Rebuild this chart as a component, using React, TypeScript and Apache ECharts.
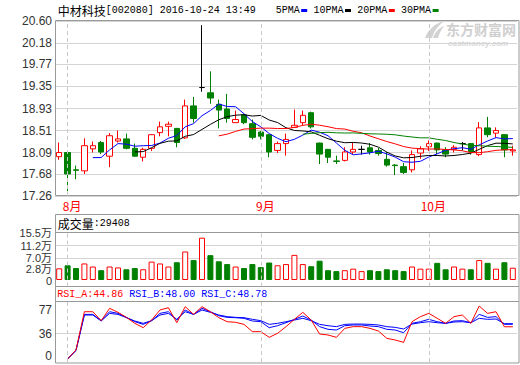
import React, { useEffect, useRef } from 'react';
import * as echarts from 'echarts';

// ---------- data ----------
const dates = [
  '2016-07-29',
  '2016-08-01', '2016-08-02', '2016-08-03', '2016-08-04', '2016-08-05',
  '2016-08-08', '2016-08-09', '2016-08-10', '2016-08-11', '2016-08-12',
  '2016-08-15', '2016-08-16', '2016-08-17', '2016-08-18', '2016-08-19',
  '2016-08-22', '2016-08-23', '2016-08-24', '2016-08-25', '2016-08-26',
  '2016-08-29', '2016-08-30', '2016-08-31',
  '2016-09-01', '2016-09-02', '2016-09-05', '2016-09-06', '2016-09-07',
  '2016-09-08', '2016-09-09', '2016-09-12', '2016-09-13', '2016-09-14',
  '2016-09-19', '2016-09-20', '2016-09-21', '2016-09-22', '2016-09-23',
  '2016-09-26', '2016-09-27', '2016-09-28', '2016-09-29', '2016-09-30',
  '2016-10-10', '2016-10-11', '2016-10-12', '2016-10-13', '2016-10-14',
  '2016-10-17', '2016-10-18', '2016-10-19', '2016-10-20', '2016-10-21',
  '2016-10-24',
];

const opens = [
  18.01, 18.09, 17.76, 17.74, 18.16, 18.28, 18.02, 18.31, 18.35, 18.17,
  18.00, 18.17, 18.47, 18.59, 18.55, 18.37, 18.98, 19.33, 19.23, 19.01,
  18.92, 18.66, 18.81, 18.64, 18.48, 18.43, 18.13, 18.26, 18.57, 18.66,
  18.85, 18.27, 18.15, 17.93, 17.94, 18.10, 18.15, 18.18, 18.13, 17.96,
  17.85, 17.82, 17.76, 18.08, 18.20, 18.27, 18.14, 18.15, 18.26, 18.26,
  18.05, 18.56, 18.46, 18.43, 18.12,
];
const closes = [
  18.09, 17.68, 17.75, 18.22, 18.22, 18.10, 18.41, 18.35, 18.17, 18.02,
  18.15, 18.43, 18.58, 18.63, 18.28, 18.98, 18.74, 19.33, 19.13, 18.90,
  18.74, 18.72, 18.66, 18.38, 18.40, 18.10, 18.26, 18.34, 18.61, 18.80,
  18.58, 18.06, 18.00, 17.92, 18.10, 18.15, 18.15, 18.10, 18.07, 17.85,
  17.84, 17.71, 18.05, 18.16, 18.26, 18.14, 18.06, 18.19, 18.26, 18.11,
  18.56, 18.43, 18.51, 18.14, 18.14,
];
const lows = [
  17.95, 17.35, 17.58, 17.68, 18.09, 18.06, 17.81, 18.28, 18.15, 18.01,
  17.92, 18.12, 18.40, 18.40, 18.19, 18.35, 18.66, 19.25, 19.02, 18.55,
  18.66, 18.66, 18.63, 18.34, 18.34, 18.00, 18.08, 18.03, 18.56, 18.61,
  18.55, 17.87, 17.89, 17.87, 17.92, 18.05, 18.05, 18.05, 18.03, 17.82,
  17.66, 17.68, 17.71, 17.97, 18.12, 18.06, 18.00, 18.09, 18.13, 18.05,
  18.02, 18.38, 18.37, 18.00, 18.03,
];
const highs = [
  18.28, 18.09, 17.84, 18.36, 18.30, 18.31, 18.46, 18.51, 18.45, 18.26,
  18.18, 18.44, 18.68, 18.68, 18.56, 19.10, 19.15, 20.52, 19.64, 19.10,
  19.21, 18.89, 18.82, 18.72, 18.50, 18.44, 18.30, 18.45, 18.91, 18.89,
  18.87, 18.28, 18.16, 18.03, 18.19, 18.28, 18.22, 18.27, 18.18, 18.10,
  17.87, 17.89, 18.13, 18.21, 18.32, 18.28, 18.19, 18.23, 18.29, 18.27,
  18.67, 18.77, 18.57, 18.44, 18.22,
];

const volumes = [
  38000, 48000, 39000, 54000, 44000, 32000, 44000, 41000, 35000, 39000,
  35000, 60000, 54000, 44000, 58000, 93000, 65000, 138000, 81000, 61000,
  52000, 44000, 39000, 52000, 42000, 57000, 48000, 52000, 82000, 52000,
  45000, 63000, 32000, 29000, 32000, 37000, 29000, 32000, 29000, 35000,
  32000, 29000, 44000, 37000, 37000, 56000, 35000, 44000, 37000, 35000,
  65000, 56000, 37000, 58000, 40000,
];

const ma5 = [
  null, null, null, null, 17.992, 17.994, 18.14, 18.26, 18.25, 18.21,
  18.22, 18.224, 18.27, 18.362, 18.414, 18.58, 18.642, 18.792, 18.892, 19.016,
  18.968, 18.964, 18.83, 18.68, 18.58, 18.452, 18.36, 18.296, 18.342, 18.422,
  18.518, 18.478, 18.41, 18.272, 18.132, 18.046, 18.064, 18.084, 18.114, 18.064,
  18.002, 17.914, 17.904, 17.922, 18.004, 18.064, 18.134, 18.162, 18.182, 18.152,
  18.236, 18.31, 18.374, 18.35, 18.356,
];
const ma10 = [
  null, null, null, null, null, null, null, null, null, 18.101,
  18.107, 18.182, 18.265, 18.306, 18.312, 18.40, 18.433, 18.531, 18.627, 18.715,
  18.774, 18.803, 18.811, 18.786, 18.798, 18.71, 18.662, 18.563, 18.511, 18.501,
  18.485, 18.419, 18.353, 18.307, 18.277, 18.282, 18.271, 18.247, 18.193, 18.098,
  18.024, 17.989, 17.994, 18.018, 18.034, 18.033, 18.024, 18.033, 18.052, 18.078,
  18.15, 18.222, 18.268, 18.266, 18.254,
];
const ma20 = [
  null, null, null, null, null, null, null, null, null, null,
  null, null, null, null, null, null, null, null, null, 18.408,
  18.441, 18.493, 18.538, 18.546, 18.555, 18.555, 18.548, 18.547, 18.569, 18.608,
  18.63, 18.611, 18.582, 18.547, 18.538, 18.496, 18.467, 18.405, 18.352, 18.30,
  18.255, 18.204, 18.174, 18.163, 18.156, 18.158, 18.148, 18.14, 18.123, 18.088,
  18.087, 18.106, 18.131, 18.142, 18.144,
];
const ma30 = [
  null, null, null, null, null, null, null, null, null, null,
  null, null, null, null, null, null, null, null, null, null,
  null, null, null, null, null, null, null, null, null, 18.439,
  18.455, 18.468, 18.476, 18.466, 18.462, 18.464, 18.455, 18.447, 18.444, 18.438,
  18.428, 18.404, 18.386, 18.37, 18.37, 18.342, 18.319, 18.281, 18.252, 18.226,
  18.22, 18.21, 18.205, 18.197, 18.188,
];

const rsiA = [
  null, 3.8, 15.3, 64, 64, 52.6, 68.3, 63.2, 56.8, 49.2,
  43.7, 53.4, 66.2, 69.1, 50, 70.4, 60.6, 70.4, 64, 56.4,
  51.3, 50.5, 47.9, 38.6, 38.6, 31.4, 36.5, 45, 54.3, 63.2,
  53.4, 35.6, 34.4, 31.4, 42.8, 45, 45, 42.8, 39.4, 30.1,
  28, 25, 51.3, 57.7, 61.9, 55.6, 49.2, 57.7, 59.8, 49.2,
  71.2, 61.9, 64, 44.86, 44.86,
];
const rsiB = [
  null, 3.8, 15.3, 60.6, 60.6, 52.6, 64, 61.9, 56.8, 51.3,
  47.9, 52.6, 61.9, 64, 53.4, 66.2, 60.6, 68.3, 64, 58.9,
  56.8, 56.4, 55.6, 52.2, 51.3, 43.7, 46.2, 50, 54.3, 58.5,
  53.4, 45, 41.6, 40.7, 46.2, 47.1, 47.1, 45.8, 45, 41.6,
  40.7, 37.3, 49.2, 51.3, 54.3, 51.3, 49.2, 52.2, 52.6, 50,
  60.6, 56.8, 57.7, 48.0, 48.0,
];
const rsiC = [
  null, 3.8, 14.4, 59.8, 59.8, 52.2, 61.9, 60.6, 56.4, 52.2,
  49.2, 52.6, 59.8, 61.9, 54.3, 64, 60.6, 66.2, 63.2, 59.8,
  57.7, 56.8, 56.4, 54.3, 52.6, 47.9, 49.2, 51.3, 53.4, 55.6,
  52.6, 47.9, 46.2, 45, 47.9, 48.3, 48.3, 47.9, 47.1, 45,
  44.1, 42, 48.3, 50, 51.3, 50, 49.2, 50.9, 51.3, 50,
  55.6, 54.3, 54.7, 48.78, 48.78,
];

const priceTicks = [17.26, 17.68, 18.09, 18.51, 18.93, 19.35, 19.77, 20.18, 20.6];
const volumeMin = -21200;
const volumeTicks = [0, 28000, 70000, 112000, 155000];
const volumeGridTicks = [70000, 112000];
const rsiTicks = [0, 36, 77];
const rsiGridTicks = [36];
const monthStarts = ['2016-08-01', '2016-09-01', '2016-10-10'];
const monthLabels = ['8月', '9月', '10月'];

const titleName = '中材科技';
const titleRest = '[002080] 2016-10-24 13:49';
const legendItems = [
  { name: '5PMA', color: '#0000ff' },
  { name: '10PMA', color: '#000000' },
  { name: '20PMA', color: '#ff0000' },
  { name: '30PMA', color: '#008000' },
];
const volumeTitle = '成交量';
const volumeNow = ':29408';
const rsiLegend = [
  { text: 'RSI_A:44.86', color: '#ff0000' },
  { text: 'RSI_B:48.00', color: '#0000ff' },
  { text: 'RSI_C:48.78', color: '#0000ff' },
];

// ---------- style ----------
const UP = '#ff0000';
const DOWN = '#008000';
const FRAME = '#999999';
const GRIDC = '#d4d4d4';
const CJK = '"Noto Sans CJK SC", sans-serif';
const MONO = '"Liberation Mono", "DejaVu Sans Mono", monospace';
const NUM = '"Liberation Sans", Arial, "Noto Sans CJK SC", sans-serif';

const L = 55;
const W = 462;

function txt(x: number, y: number, text: string, fill: string, font: string, size: number, extra: any = {}) {
  return {
    type: 'text', x, y, silent: true, z: 10,
    style: { text, fill, fontFamily: font, fontSize: size, verticalAlign: 'middle', align: 'left', ...extra },
  };
}

function hline(x1: number, x2: number, y: number) {
  return { type: 'line', silent: true, z: 5, shape: { x1, y1: y, x2, y2: y }, style: { stroke: FRAME, lineWidth: 1 } };
}

const LOGO_D = 'M1 17 C4 9 10 3 20 0 C14 5 10 10 8 17 Z M9 17 C11 11 15 7 20 5 C17 9 15 13 14 17 Z';

export default function App() {
  const ref = useRef<HTMLDivElement>(null);
  useEffect(() => {
    if (!ref.current) return;
    echarts.graphic.registerShape('emlogo', echarts.graphic.extendPath(LOGO_D, {}));
    const chart = echarts.init(ref.current, undefined, { renderer: 'svg' });

    const candleData = dates.map((_, i) => [opens[i], closes[i], lows[i], highs[i]]);
    const volData = volumes.map((v, i) => {
      const up = closes[i] >= opens[i];
      return {
        value: v,
        itemStyle: up
          ? { color: '#ffffff', borderColor: UP, borderWidth: 1 }
          : { color: DOWN, borderColor: DOWN, borderWidth: 1 },
      };
    });
    const dash = () => ({
      silent: true,
      symbol: ['none', 'none'],
      label: { show: false },
      lineStyle: { color: '#c8c8c8', type: [4, 3], width: 1 },
      emphasis: { disabled: true },
      data: monthStarts.map((d) => ({ xAxis: d })),
    });
    const toSeries = (arr: (number | null)[]) => arr.map((v) => (v == null ? '-' : v));

    // legend graphics
    const legendGraphics: any[] = [];
    let lx = 275.7;
    legendItems.forEach((it) => {
      legendGraphics.push(txt(lx, 10, it.name, '#000', MONO, 10));
      const w = it.name.length * 6;
      legendGraphics.push({
        type: 'rect', silent: true, z: 10,
        shape: { x: lx + w + 1.5, y: 9, width: 6, height: 3 },
        style: { fill: it.color },
      });
      lx += w + 13.8;
    });

    const rsiGraphics = rsiLegend.map((r, i) => txt(57.3 + i * 72, 294, r.text, r.color, MONO, 10));

    const volLabel = (v: number) => {
      if (v < 0) return '';
      if (v === 0) return '{z|0}';
      const s = (v / 10000).toFixed(1) + '万';
      if (v === 28000) return '{u|' + s + '}';
      if (v === 70000) return '{s|' + s + '}';
      return '{n|' + s + '}';
    };
    const labelBase = { color: '#333', fontFamily: NUM, fontSize: 12 };
    const volBase = { color: '#333', fontFamily: NUM, fontSize: 11, lineHeight: 10 };

    const option: any = {
      animation: false,
      backgroundColor: '#ffffff',
      grid: [
        { left: L, top: 21, width: W, height: 175 },
        { left: L, top: 232.5, width: W, height: 54 },
        { left: L, top: 301.5, width: W, height: 60.5 },
      ],
      xAxis: [0, 1, 2].map((g) => ({
        type: 'category',
        gridIndex: g,
        data: dates,
        boundaryGap: true,
        axisLine: { show: false },
        axisTick: { show: false },
        splitLine: { show: false },
        axisLabel:
          g === 0
            ? {
                show: true,
                interval: (idx: number) => monthStarts.indexOf(dates[idx]) >= 0,
                formatter: (val: string) => monthLabels[monthStarts.indexOf(val)] || '',
                color: '#ff0000',
                fontFamily: CJK,
                fontSize: 12,
                margin: 3,
                padding: [0, 0, 0, 9],
              }
            : { show: false },
      })),
      yAxis: [
        {
          type: 'value',
          gridIndex: 0,
          min: 17.26,
          max: 20.6,
          axisLine: { show: false },
          axisTick: { show: false, customValues: priceTicks },
          axisLabel: {
            customValues: priceTicks,
            formatter: (v: number) => v.toFixed(2),
            ...labelBase,
            margin: 3,
            showMinLabel: true,
            showMaxLabel: true,
            hideOverlap: false,
          },
          splitLine: { show: true, lineStyle: { color: GRIDC, width: 1 } },
        },
        {
          type: 'value',
          gridIndex: 1,
          min: volumeMin,
          max: 155000,
          axisLine: { show: false },
          axisTick: { show: false, customValues: volumeGridTicks },
          axisLabel: {
            customValues: [volumeMin, ...volumeTicks],
            formatter: volLabel,
            ...volBase,
            margin: 3,
            showMinLabel: false,
            showMaxLabel: true,
            hideOverlap: false,
            rich: {
              u: { ...volBase, padding: [0, 0, 5, 0] },
              s: { ...volBase, padding: [0, 0, 2, 0] },
              z: { ...volBase, padding: [1, 0, 0, 0] },
              n: { ...volBase },
            },
          },
          splitLine: { show: true, lineStyle: { color: GRIDC, width: 1 } },
        },
        {
          type: 'value',
          gridIndex: 2,
          min: 0,
          max: 77,
          axisLine: { show: false },
          axisTick: { show: false, customValues: rsiGridTicks },
          axisLabel: {
            customValues: rsiTicks,
            formatter: (v: number) => (v === 77 ? '{t|77}' : v === 0 ? '{b|0}' : '{m|' + v + '}'),
            ...labelBase,
            margin: 3,
            showMinLabel: true,
            showMaxLabel: true,
            hideOverlap: false,
            rich: {
              t: { ...labelBase, padding: [16, 0, 0, 0] },
              b: { ...labelBase, padding: [0, 0, 12, 0] },
              m: { ...labelBase },
            },
          },
          splitLine: { show: true, lineStyle: { color: GRIDC, width: 1 } },
        },
      ],
      series: [
        {
          type: 'candlestick',
          xAxisIndex: 0,
          yAxisIndex: 0,
          data: candleData,
          barWidth: 6,
          itemStyle: {
            color: '#ffffff',
            color0: DOWN,
            borderColor: UP,
            borderColor0: DOWN,
            borderColorDoji: '#000000',
            borderWidth: 1,
          },
          markLine: dash(),
        },
        { type: 'line', xAxisIndex: 0, yAxisIndex: 0, data: toSeries(ma5), showSymbol: false, symbol: 'none', lineStyle: { color: '#0000ff', width: 1 }, z: 3 },
        { type: 'line', xAxisIndex: 0, yAxisIndex: 0, data: toSeries(ma10), showSymbol: false, symbol: 'none', lineStyle: { color: '#000000', width: 1 }, z: 3 },
        { type: 'line', xAxisIndex: 0, yAxisIndex: 0, data: toSeries(ma20), showSymbol: false, symbol: 'none', lineStyle: { color: '#ff0000', width: 1 }, z: 3 },
        { type: 'line', xAxisIndex: 0, yAxisIndex: 0, data: toSeries(ma30), showSymbol: false, symbol: 'none', lineStyle: { color: '#008000', width: 1 }, z: 3 },
        {
          type: 'bar',
          xAxisIndex: 1,
          yAxisIndex: 1,
          data: volData,
          barWidth: 6,
          markLine: dash(),
        },
        {
          type: 'line', xAxisIndex: 2, yAxisIndex: 2, data: toSeries(rsiC), showSymbol: false, symbol: 'none',
          lineStyle: { color: '#0000ff', width: 1 },
          markLine: dash(),
        },
        { type: 'line', xAxisIndex: 2, yAxisIndex: 2, data: toSeries(rsiB), showSymbol: false, symbol: 'none', lineStyle: { color: '#0000ff', width: 1 } },
        { type: 'line', xAxisIndex: 2, yAxisIndex: 2, data: toSeries(rsiA), showSymbol: false, symbol: 'none', lineStyle: { color: '#ff0000', width: 1 } },
      ],
      graphic: [
        // frames
        { type: 'rect', silent: true, z: 5, shape: { x: 55.5, y: 20.5, width: 463.5, height: 175 }, style: { fill: 'none', stroke: FRAME, lineWidth: 1 } },
        { type: 'rect', silent: true, z: 5, shape: { x: 55.5, y: 214.5, width: 463.5, height: 72 }, style: { fill: 'none', stroke: FRAME, lineWidth: 1 } },
        hline(55.5, 519, 232.5),
        { type: 'rect', silent: true, z: 5, shape: { x: 55.5, y: 286.5, width: 463.5, height: 76.5 }, style: { fill: 'none', stroke: FRAME, lineWidth: 1 } },
        hline(55.5, 519, 301.5),
        // title
        txt(57.7, 10, titleName, '#000', CJK, 12),
        txt(105.7, 10, titleRest, '#000', MONO, 10),
        ...legendGraphics,
        // watermark
        { type: 'emlogo', x: 424, y: 21, scaleX: 1, scaleY: 1, silent: true, z: 1, style: { fill: '#d2d2d2' } },
        txt(446, 29, '东方财富网', '#cfcfcf', CJK, 14, { fontWeight: 'bold' }),
        txt(448, 43, 'eastmoney.com', '#d6d6d6', NUM, 8, { fontWeight: 'bold', fontStyle: 'italic' }),
        // volume header
        txt(57.7, 223.5, volumeTitle, '#000', CJK, 12),
        txt(93.7, 223.5, volumeNow, '#000', MONO, 10),
        // rsi header
        ...rsiGraphics,
      ],
    };
    chart.setOption(option);
    return () => chart.dispose();
  }, []);

  return (
    <div
      ref={ref}
      style={{ position: 'absolute', left: 0, top: 0, width: 520, height: 365, background: '#fff' }}
    />
  );
}
